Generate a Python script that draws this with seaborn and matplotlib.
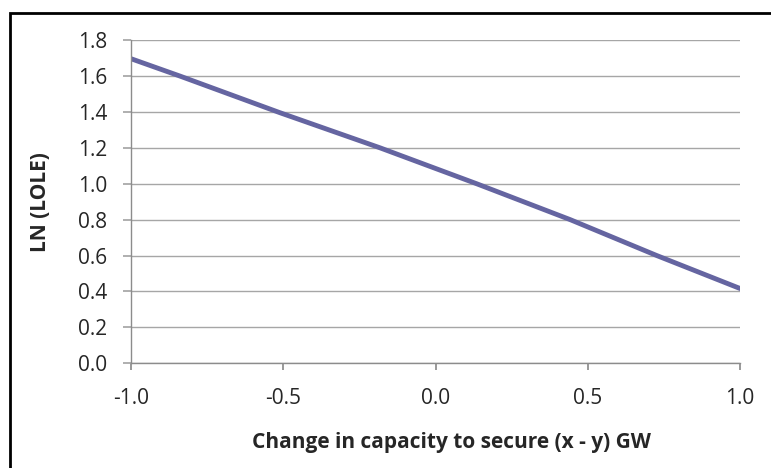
import matplotlib
matplotlib.use("Agg")
import matplotlib.pyplot as plt
import seaborn as sns
import pandas as pd
from matplotlib.patches import Rectangle

capacity_change = [-1.0, -0.839, -0.511, -0.182, 0.135, 0.442, 0.726, 1.0]
ln_lole = [1.697, 1.60, 1.396, 1.20, 1.00, 0.80, 0.60, 0.416]
x_ticks = [-1.0, -0.5, 0.0, 0.5, 1.0]
y_ticks = [0.0, 0.2, 0.4, 0.6, 0.8, 1.0, 1.2, 1.4, 1.6, 1.8]

sns.set_theme(style="white")
plt.rcParams['font.family'] = ['Open Sans', 'DejaVu Sans']

df = pd.DataFrame({"x": capacity_change, "y": ln_lole})

fig = plt.figure(figsize=(7.71, 4.68), dpi=100)
ax = fig.add_axes([0.170, 0.224, 0.790, 0.690])
sns.lineplot(data=df, x="x", y="y", ax=ax, color="#6565a1", linewidth=3.5)

ax.set_xlim(-1.0, 1.0)
ax.set_ylim(0.0, 1.8)
ax.set_xticks(x_ticks)
ax.set_xticklabels([f"{v:.1f}" for v in x_ticks])
ax.set_yticks(y_ticks)
ax.set_yticklabels([f"{v:.1f}" for v in y_ticks])
ax.yaxis.grid(True, color="#a6a6a6", linewidth=1.0)
ax.set_axisbelow(True)
for s in ["top", "right"]:
    ax.spines[s].set_visible(False)
for s in ["left", "bottom"]:
    ax.spines[s].set_color("#8c8c8c")
    ax.spines[s].set_linewidth(1.0)
ax.tick_params(axis="x", which="major", direction="out", length=5, color="#8c8c8c",
               labelsize=15, pad=13, bottom=True)
ax.tick_params(axis="y", which="major", direction="out", length=6, color="#a6a6a6",
               labelsize=15, pad=11, left=True)
ax.set_xlabel("")
ax.set_ylabel("")
fig.text(0.052, 0.569, "LN (LOLE)", rotation=90, ha="center", va="center",
         fontsize=15, fontweight="bold")
fig.text(0.586, 0.054, "Change in capacity to secure (x - y) GW", ha="center", va="center",
         fontsize=15, fontweight="bold")

fig.patches.append(Rectangle((0.0130, -0.01), 1.0, 0.982, transform=fig.transFigure,
                             fill=False, edgecolor="black", linewidth=2.0))

fig.savefig("out.png", dpi=100)
